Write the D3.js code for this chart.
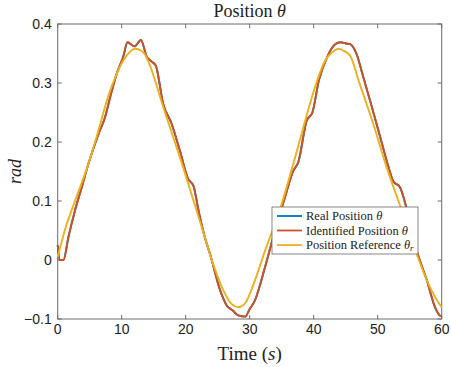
<!DOCTYPE html>
<html>
<head>
<meta charset="utf-8">
<script src="https://cdn.jsdelivr.net/npm/d3@7"></script>
<style>
  body { margin: 0; background: #fff; }
  svg { display: block; }
  .tick-label { font-family: "Liberation Sans", Arial, sans-serif; font-size: 14px; fill: #222; }
  .latex { font-family: "Liberation Serif", "DejaVu Serif", serif; fill: #222; }
</style>
</head>
<body>
<svg id="chart" width="451" height="367"></svg>
<script>
// reference trajectory (yellow)
const refTime = [0, 1.1, 2.7, 4.8, 6.35, 7.9, 9.2, 10.25, 11.2, 12.1, 13.0, 13.6, 14.4, 16.5, 19.6, 23.0, 24.3, 25.9, 27.2, 28.2, 29.3, 30.8, 32.4, 34.5, 37.1, 38.9, 40.2, 41.8, 42.9, 43.9, 44.8, 45.7, 47.2, 49.3, 51.4, 53.5, 56.1, 57.7, 59.3, 60];
const refPos  = [0.005, 0.05, 0.10, 0.163, 0.219, 0.278, 0.315, 0.338, 0.352, 0.358, 0.355, 0.349, 0.330, 0.259, 0.157, 0.038, -0.007, -0.052, -0.075, -0.080, -0.073, -0.035, 0.016, 0.078, 0.174, 0.245, 0.293, 0.338, 0.352, 0.358, 0.354, 0.346, 0.298, 0.231, 0.157, 0.092, 0.010, -0.035, -0.069, -0.080];

// identified / real position (red drawn over blue)
const idTime = [0, 0.3, 0.9, 1.66, 2.7, 3.75, 4.8, 6.35, 7.4, 8.2, 9.2, 10.25, 10.9, 12.0, 13.0, 13.9, 14.6, 15.3, 16.5, 17.8, 19.1, 20.4, 21.2, 22.0, 23.0, 23.8, 25.4, 26.4, 27.4, 28.2, 29.3, 30.0, 30.8, 32.4, 33.95, 35.5, 36.8, 37.6, 38.9, 39.8, 40.8, 42.1, 43.4, 44.2, 45.0, 45.7, 46.7, 47.75, 49.1, 50.4, 51.7, 52.4, 53.5, 54.6, 56.1, 57.7, 58.95, 59.7, 60];
const idPos  = [0.025, 0.0, 0.0, 0.038, 0.084, 0.123, 0.163, 0.213, 0.242, 0.276, 0.315, 0.345, 0.369, 0.362, 0.373, 0.345, 0.337, 0.330, 0.264, 0.231, 0.185, 0.137, 0.126, 0.084, 0.038, 0.010, -0.052, -0.077, -0.086, -0.094, -0.096, -0.083, -0.069, -0.012, 0.05, 0.106, 0.151, 0.166, 0.236, 0.250, 0.304, 0.344, 0.366, 0.369, 0.367, 0.366, 0.349, 0.310, 0.259, 0.208, 0.157, 0.134, 0.123, 0.084, 0.016, -0.035, -0.080, -0.094, -0.095];

const xTicks = [0, 10, 20, 30, 40, 50, 60];
const yTicks = [-0.1, 0, 0.1, 0.2, 0.3, 0.4];

const legendNames = ["Real Position", "Identified Position", "Position Reference"];
const colors = ["#0072BD", "#CF5120", "#EDB120"];

const svg = d3.select("#chart");
const m = {left: 57.7, right: 441.7, top: 24, bottom: 319};

const x = d3.scaleLinear().domain([0, 60]).range([m.left, m.right]);
const y = d3.scaleLinear().domain([-0.1, 0.4]).range([m.bottom, m.top]);

// axes box
svg.append("rect")
  .attr("x", m.left).attr("y", m.top)
  .attr("width", m.right - m.left).attr("height", m.bottom - m.top)
  .attr("fill", "none").attr("stroke", "#6a6a6a").attr("stroke-width", 1);

const tickLen = 4;
xTicks.forEach(t => {
  svg.append("line").attr("x1", x(t)).attr("x2", x(t)).attr("y1", m.bottom).attr("y2", m.bottom - tickLen).attr("stroke", "#6a6a6a");
  svg.append("line").attr("x1", x(t)).attr("x2", x(t)).attr("y1", m.top).attr("y2", m.top + tickLen).attr("stroke", "#6a6a6a");
  svg.append("text").attr("class", "tick-label")
    .attr("x", x(t)).attr("y", m.bottom + 15).attr("text-anchor", "middle")
    .text(t);
});
yTicks.forEach(v => {
  svg.append("line").attr("x1", m.left).attr("x2", m.left + tickLen).attr("y1", y(v)).attr("y2", y(v)).attr("stroke", "#6a6a6a");
  svg.append("line").attr("x1", m.right).attr("x2", m.right - tickLen).attr("y1", y(v)).attr("y2", y(v)).attr("stroke", "#6a6a6a");
  svg.append("text").attr("class", "tick-label")
    .attr("x", m.left - 6).attr("y", y(v) + 5).attr("text-anchor", "end")
    .text(v === 0 ? "0" : d3.format(".1f")(v));
});

const line = d3.line()
  .curve(d3.curveMonotoneX)
  .x(d => x(d[0]))
  .y(d => y(d[1]));

const idData = idTime.map((t, i) => [t, idPos[i]]);
const refData = refTime.map((t, i) => [t, refPos[i]]);

const plot = svg.append("g");
[idData, idData, refData].forEach((data, i) => {
  plot.append("path")
    .datum(data)
    .attr("d", line)
    .attr("fill", "none")
    .attr("stroke", colors[i])
    .attr("stroke-width", 1.9)
    .attr("stroke-linejoin", "round");
});

// title and labels
const title = svg.append("text").attr("class", "latex")
  .attr("x", (m.left + m.right) / 2).attr("y", 17)
  .attr("text-anchor", "middle").attr("font-size", 18);
title.append("tspan").text("Position ");
title.append("tspan").attr("font-style", "italic").text("θ");

const xl = svg.append("text").attr("class", "latex")
  .attr("x", (m.left + m.right) / 2).attr("y", 360)
  .attr("text-anchor", "middle").attr("font-size", 19);
xl.append("tspan").text("Time (");
xl.append("tspan").attr("font-style", "italic").text("s");
xl.append("tspan").text(")");

svg.append("text").attr("class", "latex")
  .attr("transform", `translate(21,${(m.top + m.bottom) / 2}) rotate(-90)`)
  .attr("text-anchor", "middle").attr("font-size", 18).attr("font-style", "italic")
  .text("rad");

// legend
const lg = svg.append("g").attr("transform", "translate(272,207)");
lg.append("rect").attr("width", 146).attr("height", 47)
  .attr("fill", "#fff").attr("stroke", "#6a6a6a").attr("stroke-width", 0.8);
legendNames.forEach((name, i) => {
  const ry = 9 + i * 14.5;
  lg.append("line").attr("x1", 5).attr("x2", 30).attr("y1", ry).attr("y2", ry)
    .attr("stroke", colors[i]).attr("stroke-width", 1.8);
  const tx = lg.append("text").attr("class", "latex")
    .attr("x", 34).attr("y", ry + 4).attr("font-size", 12.5);
  tx.append("tspan").text(name + " ");
  tx.append("tspan").attr("font-style", "italic").text("θ");
  if (i === 2) {
    tx.append("tspan").attr("font-style", "italic").attr("font-size", 9).attr("dy", 2).text("r");
  }
});
</script>
</body>
</html>
